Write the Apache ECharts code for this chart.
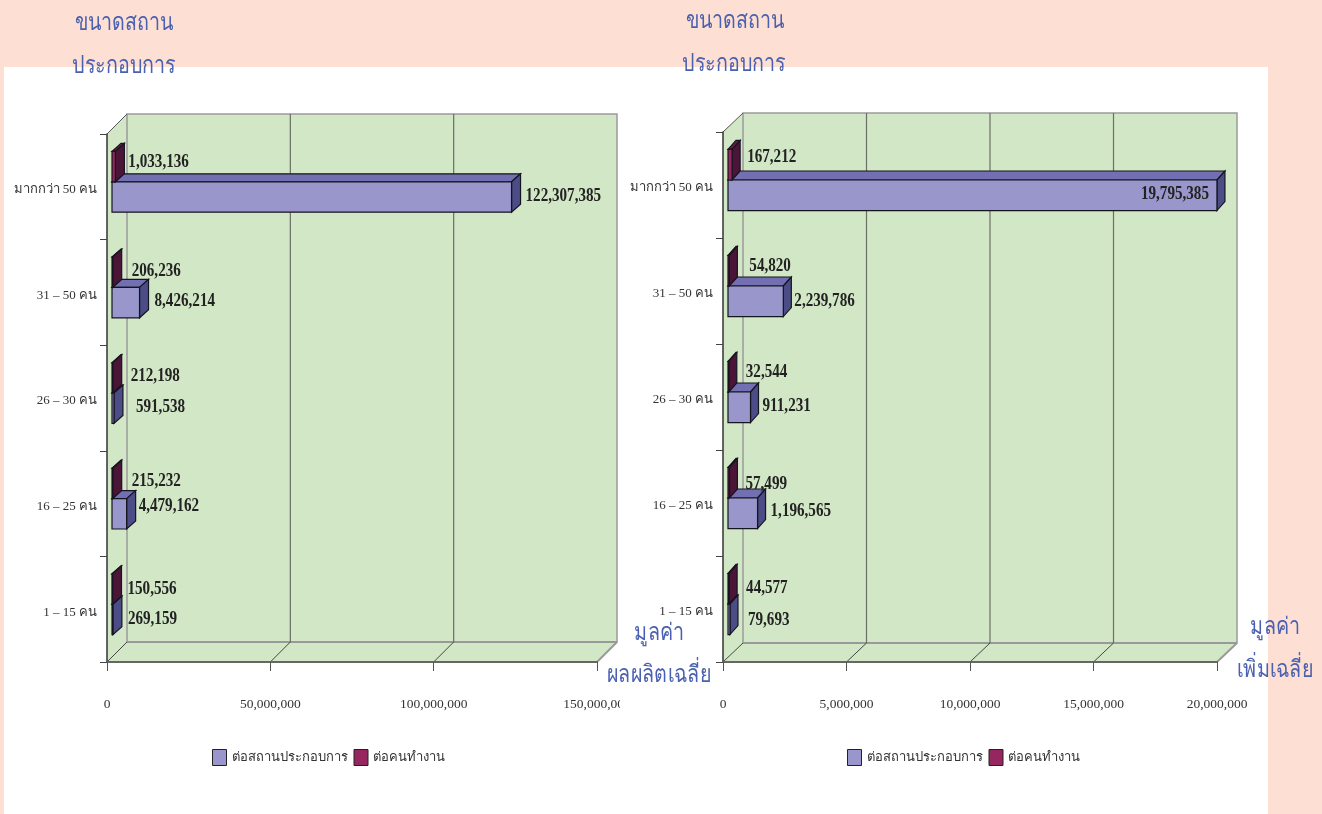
<!DOCTYPE html>
<html>
<head>
<meta charset="utf-8">
<style>
html, body { margin: 0; padding: 0; background: #fddfd3; }
#chart { width: 1322px; height: 814px; }
</style>
<script src="https://cdn.jsdelivr.net/npm/echarts@6/dist/echarts.min.js"></script>
</head>
<body>
<div id="chart"></div>
<script>
var categories = ['มากกว่า 50 คน', '31 – 50 คน', '26 – 30 คน', '16 – 25 คน', '1 – 15 คน']
var seriesNames = ['ต่อสถานประกอบการ', 'ต่อคนทำงาน']

// ผลผลิตเฉลี่ย
var outputPerPlace = [122307385, 8426214, 591538, 4479162, 269159]
var outputPerWorker = [1033136, 206236, 212198, 215232, 150556]
var outputTicks = [0, 50000000, 100000000, 150000000]

// มูลค่าเพิ่มเฉลี่ย
var addedPerPlace = [19795385, 2239786, 911231, 1196565, 79693]
var addedPerWorker = [167212, 54820, 32544, 57499, 44577]
var addedTicks = [0, 5000000, 10000000, 15000000, 20000000]

// label nudges, hand fitted to the picture
var outputPlaceNudge = [[0, -1], [1, -1], [8, -1], [-2, -7], [1, 0]]
var outputWorkerNudge = [[-1, -4], [5, -1], [4, -1], [5, -2], [1, 0]]
var addedPlaceNudge = [[-89, -1], [-2, 0], [-1, -1], [0, -2], [5, 1]]
var addedWorkerNudge = [[2, -7], [7, -4], [4, -4], [3, 2], [4, 0]]

var BLUE = { front: '#9896ca', top: '#7270b2', side: '#4c4c86' }
var RED = { front: '#95265f', top: '#6a1b48', side: '#4a1537' }
var WALL = '#d2e7c6'
var TITLE_COLOR = '#4a60b0'
var SERIF = '"Liberation Serif", "Times New Roman", serif'

function poly(points, fill, stroke, width) {
  return {
    type: 'polygon',
    shape: { points: points },
    style: { fill: fill, stroke: stroke || null, lineWidth: width || 0 }
  }
}

function line(x1, y1, x2, y2, color, width) {
  return {
    type: 'line',
    shape: { x1: x1, y1: y1, x2: x2, y2: y2 },
    style: { stroke: color, lineWidth: width }
  }
}

// walls and floor of the fake 3d box, one data item per x tick
function wallRenderer(depthX, depthY, lastIndex) {
  return function(params, api) {
    var cs = params.coordSys
    var x = api.coord([api.value(0), 0])[0]
    var top = cs.y
    var bottom = cs.y + cs.height
    var right = cs.x + cs.width
    var kids = []
    if (params.dataIndex === 0) {
      kids.push(poly([[cs.x, top], [cs.x + depthX, top - depthY], [cs.x + depthX, bottom - depthY], [cs.x, bottom]], WALL))
      kids.push(poly([[cs.x, bottom], [cs.x + depthX, bottom - depthY], [right + depthX, bottom - depthY], [right, bottom]], WALL))
      kids.push({
        type: 'rect',
        shape: { x: cs.x + depthX, y: top - depthY, width: cs.width, height: cs.height },
        style: { fill: WALL, stroke: '#9a9a9a', lineWidth: 1.5 }
      })
      kids.push(line(cs.x, top, cs.x + depthX, top - depthY, '#555', 1))
      kids.push(line(cs.x + depthX, bottom - depthY, right + depthX, bottom - depthY, '#999', 2))
    }
    var isEdge = params.dataIndex === 0 || params.dataIndex === lastIndex
    if (!isEdge) {
      kids.push(line(x + depthX, top - depthY, x + depthX, bottom - depthY, '#6b6f66', 1.2))
    }
    kids.push(line(x, bottom, x + depthX, bottom - depthY, params.dataIndex === lastIndex ? '#999' : '#444', params.dataIndex === lastIndex ? 2 : 1))
    return { type: 'group', children: kids }
  }
}

// one 3d bar. slot 0 sits under the band centre, slot 1 stacks on top of it
function barRenderer(colors, slot, depthX, depthY, offset, values, nudges) {
  return function(params, api) {
    var value = api.value(0)
    var idx = api.value(1)
    var base = api.coord([0, idx])
    var end = api.coord([value, idx])
    var band = api.size([0, 1])[1]
    var h = band * 0.288
    var left = base[0] + offset
    var right = end[0] + offset
    var bottom = slot === 0 ? base[1] - offset + h : base[1] - offset
    var top = bottom - h
    var nudge = nudges[params.dataIndex]
    var stroke = '#15151f'
    return {
      type: 'group',
      children: [
        poly([[left, top], [left + depthX, top - depthY], [right + depthX, top - depthY], [right, top]], colors.top, stroke, 1.2),
        poly([[right, top], [right + depthX, top - depthY], [right + depthX, bottom - depthY], [right, bottom]], colors.side, stroke, 1.2),
        {
          type: 'rect',
          shape: { x: left, y: top, width: right - left, height: h },
          style: { fill: colors.front, stroke: stroke, lineWidth: 1.2 }
        },
        {
          type: 'text',
          z2: 10,
          x: right + depthX + 5 + nudge[0],
          y: top + h / 2 + nudge[1],
          scaleX: 0.84,
          style: {
            text: values[params.dataIndex].toLocaleString('en-US'),
            font: 'bold 18px ' + SERIF,
            fill: '#222',
            align: 'left',
            verticalAlign: 'middle'
          }
        }
      ]
    }
  }
}

function makeXAxis(gridIndex, ticks) {
  return {
    type: 'value',
    gridIndex: gridIndex,
    position: 'bottom',
    z: 2,
    min: 0,
    max: ticks[ticks.length - 1],
    interval: ticks[1],
    splitLine: { show: false },
    axisLine: { show: true, onZero: false, lineStyle: { color: '#666', width: 2 } },
    axisTick: { show: true, length: 9, lineStyle: { color: '#555', width: 1 } },
    axisLabel: {
      margin: 35,
      fontFamily: SERIF,
      fontSize: 13.5,
      color: '#333',
      hideOverlap: false,
      showMinLabel: true,
      showMaxLabel: true,
      formatter: function(v) { return v.toLocaleString('en-US') }
    }
  }
}

function makeYAxis(gridIndex, labelDrop) {
  return {
    type: 'category',
    gridIndex: gridIndex,
    inverse: true,
    z: 2,
    data: categories,
    axisLine: { show: true, onZero: false, lineStyle: { color: '#333', width: 1.5 } },
    axisTick: { show: true, length: 7, lineStyle: { color: '#444', width: 1 } },
    // top aligned with a short line box, that drops the text a few px under the band centre
    axisLabel: { margin: 10, fontFamily: SERIF, fontSize: 13, color: '#333', verticalAlign: 'top', lineHeight: labelDrop }
  }
}

function makeSeries(axisIndex, ticks, placeValues, workerValues, placeNudge, workerNudge, depthX, depthY, barDepthX, barDepthY) {
  return [
    {
      type: 'custom',
      z: 1,
      silent: true,
      xAxisIndex: axisIndex,
      yAxisIndex: axisIndex,
      encode: { x: 0, y: 1 },
      data: ticks.map(function(t) { return [t, 0] }),
      renderItem: wallRenderer(depthX, depthY, ticks.length - 1)
    },
    {
      name: seriesNames[0],
      type: 'custom',
      z: 3,
      xAxisIndex: axisIndex,
      yAxisIndex: axisIndex,
      encode: { x: 0, y: 1 },
      itemStyle: { color: BLUE.front },
      data: placeValues.map(function(v, i) { return [v, i] }),
      renderItem: barRenderer(BLUE, 0, barDepthX, barDepthY, 5, placeValues, placeNudge)
    },
    {
      name: seriesNames[1],
      type: 'custom',
      z: 4,
      xAxisIndex: axisIndex,
      yAxisIndex: axisIndex,
      encode: { x: 0, y: 1 },
      itemStyle: { color: RED.front },
      data: workerValues.map(function(v, i) { return [v, i] }),
      renderItem: barRenderer(RED, 1, barDepthX, barDepthY, 5, workerValues, workerNudge)
    }
  ]
}

function titleText(text, x, y) {
  return {
    type: 'text',
    x: x,
    y: y,
    z: 20,
    scaleX: 0.82,
    style: {
      text: text,
      font: '24px ' + SERIF,
      fill: TITLE_COLOR,
      align: 'center',
      verticalAlign: 'middle'
    }
  }
}

function makeLegend(left) {
  return {
    left: left,
    top: 749,
    padding: 0,
    data: [
      { name: seriesNames[0], icon: 'rect' },
      { name: seriesNames[1], icon: 'rect' }
    ],
    itemWidth: 14,
    itemHeight: 16,
    itemGap: 6,
    selectedMode: false,
    itemStyle: { borderColor: '#222', borderWidth: 1 },
    textStyle: { fontFamily: SERIF, fontSize: 13, color: '#333' }
  }
}

var chart = echarts.init(document.getElementById('chart'), null, { renderer: 'canvas' })
chart.setOption({
  animation: false,
  backgroundColor: '#fddfd3',
  grid: [
    { left: 107, top: 134, width: 490, height: 528 },
    { left: 723, top: 132, width: 494, height: 530 }
  ],
  xAxis: [makeXAxis(0, outputTicks), makeXAxis(1, addedTicks)],
  yAxis: [makeYAxis(0, 6), makeYAxis(1, 6)],
  legend: [makeLegend(212), makeLegend(847)],
  series: makeSeries(0, outputTicks, outputPerPlace, outputPerWorker, outputPlaceNudge, outputWorkerNudge, 20, 20, 9, 8)
    .concat(makeSeries(1, addedTicks, addedPerPlace, addedPerWorker, addedPlaceNudge, addedWorkerNudge, 20, 19, 8, 9)),
  graphic: [
    { type: 'rect', z: -10, shape: { x: 4, y: 67, width: 1264, height: 747 }, style: { fill: '#fff' } },
    // the left picture is cut off just past its last tick label
    { type: 'rect', z: 10, shape: { x: 620, y: 690, width: 14, height: 26 }, style: { fill: '#fff' } },
    titleText('ขนาดสถาน', 124, 24),
    titleText('ประกอบการ', 124, 67),
    titleText('ขนาดสถาน', 735, 22),
    titleText('ประกอบการ', 734, 65),
    titleText('มูลค่า', 659, 634),
    titleText('ผลผลิตเฉลี่ย', 659, 676),
    titleText('มูลค่า', 1275, 628),
    titleText('เพิ่มเฉลี่ย', 1275, 671)
  ]
})
</script>
</body>
</html>
